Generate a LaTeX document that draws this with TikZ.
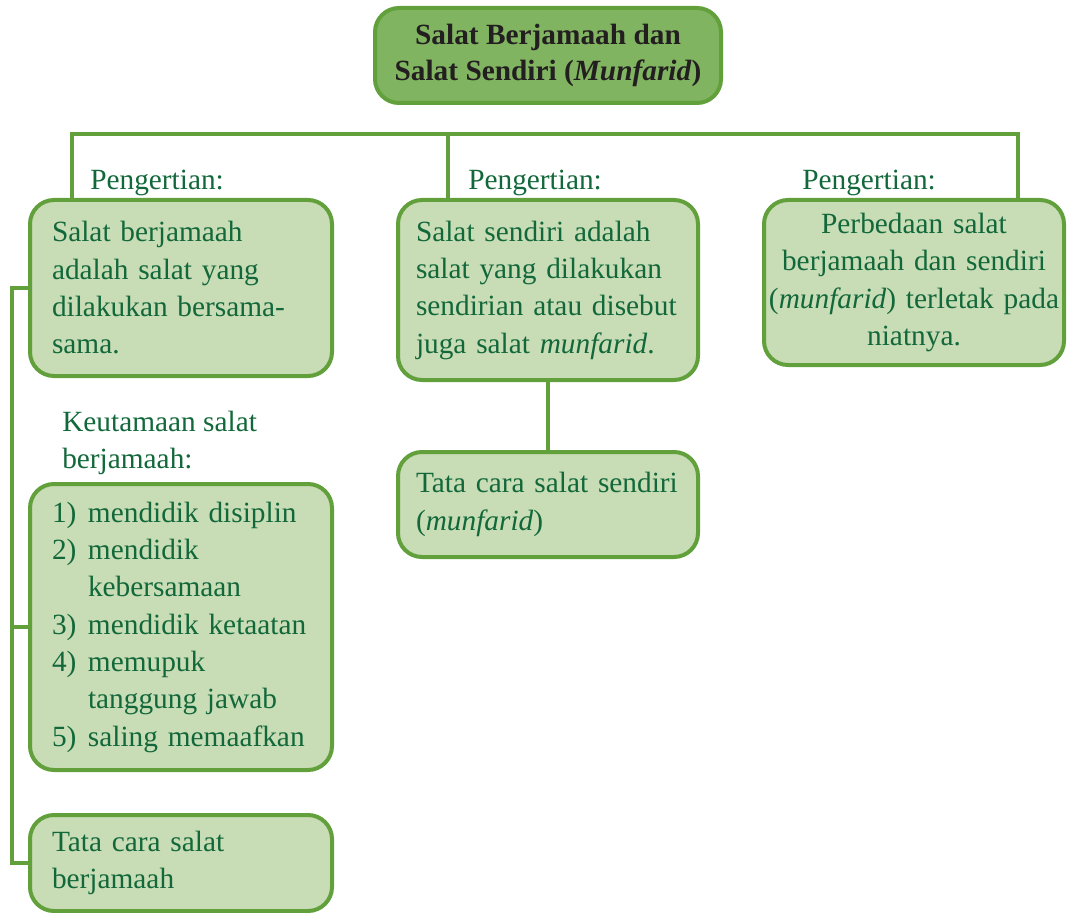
\documentclass[tikz,border=0pt]{standalone}
\usepackage{fontspec}
\setmainfont{Liberation Serif}
\definecolor{txtgreen}{RGB}{18,104,58}
\definecolor{boxfill}{RGB}{200,220,181}
\definecolor{boxline}{RGB}{98,160,60}
\definecolor{titlefill}{RGB}{128,180,96}
\definecolor{titletext}{RGB}{35,31,32}
\newcommand\itemlbl[1]{\makebox[27pt][l]{#1}}
\hyphenpenalty=10000
\begin{document}
\begin{tikzpicture}[x=0.75pt,y=-0.75pt,
  box/.style={draw=boxline, line width=3pt, fill=boxfill, rounded corners=18pt,
    text=txtgreen, font=\fontsize{22}{28}\selectfont, align=left, inner ysep=0pt},
  leftbox/.style={box, minimum width=226.5pt, text width=193.5pt, inner xsep=16.5pt},
  midbox/.style={box, minimum width=225pt, text width=198pt, inner xsep=13.5pt},
  rightbox/.style={box, minimum width=225pt, text width=219pt, inner xsep=3pt, align=center},
  titlebox/.style={draw=boxline, line width=3pt, fill=titlefill, rounded corners=18pt,
    text=titletext, font=\fontsize{22}{27}\selectfont\bfseries, align=center,
    minimum width=259.5pt, minimum height=71.25pt},
  conn/.style={draw=boxline, line width=3pt},
  lbl/.style={text=txtgreen, font=\fontsize{22}{28}\selectfont, inner sep=0pt, align=left}]
\useasboundingbox (0,0) rectangle (1067,913);

\node[titlebox] (title) at (548,55.5) {Salat Berjamaah dan\\Salat Sendiri (\textit{Munfarid})};

\node[leftbox, minimum height=132pt] (b1) at (181,288)
  {Salat berjamaah\\adalah salat yang\\dilakukan bersama-\\sama.};
\node[leftbox, minimum height=214.5pt] (b4) at (181,627)
  {\itemlbl{1)}mendidik disiplin\\
   \itemlbl{2)}mendidik\\
   \itemlbl{}kebersamaan\\
   \itemlbl{3)}mendidik ketaatan\\
   \itemlbl{4)}memupuk\\
   \itemlbl{}tanggung jawab\\
   \itemlbl{5)}saling memaafkan};
\node[leftbox, minimum height=72pt] (b5) at (181,863)
  {Tata cara salat\\berjamaah};

\node[midbox, minimum height=135pt] (b2) at (548,290)
  {Salat sendiri adalah\\salat yang dilakukan\\sendirian atau disebut\\juga salat \textit{munfarid}.};
\node[midbox, minimum height=78.75pt] (b6) at (548,504.5)
  {Tata cara salat sendiri\\(\textit{munfarid})};

\node[rightbox, minimum height=123.75pt] (b3) at (914,282.5)
  {Perbedaan salat\\berjamaah dan sendiri\\(\textit{munfarid}) terletak pada\\niatnya.};

\node[lbl, anchor=base west] (p1) at (90,190) {Pengertian:};
\node[lbl, anchor=base west] (p2) at (468,190) {Pengertian:};
\node[lbl, anchor=base west] (p3) at (802,190) {Pengertian:};
\node[lbl, anchor=west] (k) at (62,443) {Keutamaan salat\\berjamaah:};

\coordinate (h1) at (72,134);
\coordinate (h2) at (448,134);
\coordinate (h3) at (1018,134);
\coordinate (lx) at (12,0);

\draw[conn] (h1 |- b1.north) -- (h1) -- (h3) -- (h3 |- b3.north);
\draw[conn] (h2) -- (h2 |- b2.north);
\draw[conn] (b2.south) -- (b6.north);
\draw[conn] (b1.west) -- (b1.west -| lx) -- (b5.west -| lx) -- (b5.west);
\draw[conn] (b4.west) -- (b4.west -| lx);
\end{tikzpicture}
\end{document}
